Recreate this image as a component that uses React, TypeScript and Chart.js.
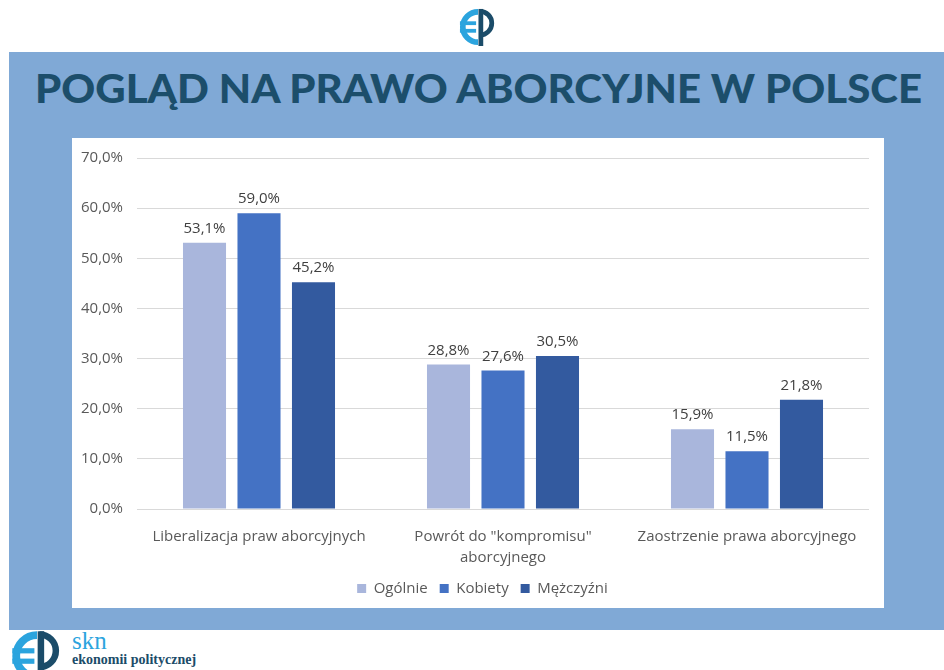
import React, { useEffect, useRef } from "react";
import { Chart, registerables } from "chart.js";

Chart.register(...registerables);

const categories: string[][] = [
  ["Liberalizacja praw aborcyjnych"],
  ['Powrót do "kompromisu"', "aborcyjnego"],
  ["Zaostrzenie prawa aborcyjnego"],
];
const seriesNames = ["Ogólnie", "Kobiety", "Mężczyźni"];
const ogolnie = [53.1, 28.8, 15.9];
const kobiety = [59.0, 27.6, 11.5];
const mezczyzni = [45.2, 30.5, 21.8];
const seriesColors = ["#a9b6dc", "#4472c4", "#335a9f"];
const yMin = 0;
const yMax = 70;
const yStep = 10;

const fmt = (v: number) => v.toFixed(1).replace(".", ",") + "%";
const FONT = "'Open Sans', sans-serif";

const dataLabelPlugin = {
  id: "dataLabels",
  afterDatasetsDraw(chart: any) {
    const ctx = chart.ctx;
    ctx.save();
    ctx.font = `15px ${FONT}`;
    ctx.fillStyle = "#404040";
    ctx.textAlign = "center";
    ctx.textBaseline = "alphabetic";
    chart.data.datasets.forEach((ds: any, i: number) => {
      const meta = chart.getDatasetMeta(i);
      meta.data.forEach((bar: any, j: number) => {
        ctx.fillText(fmt(ds.data[j]), bar.x, bar.y - 10);
      });
    });
    ctx.restore();
  },
};

const legendShiftPlugin = {
  id: "legendShift",
  afterLayout(chart: any) {
    const l = chart.legend;
    if (l) {
      l.left += 12;
      l.right += 12;
    }
  },
};

function Logo({ size }: { size: number }) {
  return (
    <svg width={size} height={size} viewBox="0 0 40 40">
      <path d="M20,4 A16,16 0 0 0 20,36" fill="none" stroke="#2ba4de" strokeWidth="6" />
      <rect x="1" y="14" width="17" height="4" fill="#2ba4de" />
      <rect x="1" y="22" width="17" height="4" fill="#2ba4de" />
      <rect x="20.5" y="1" width="5" height="39" fill="#1b4c69" />
      <path d="M22,3.5 A12.5,12.5 0 0 1 22,28.5" fill="none" stroke="#1b4c69" strokeWidth="5" />
    </svg>
  );
}

export default function App() {
  const ref = useRef<HTMLCanvasElement>(null);
  useEffect(() => {
    if (!ref.current) return;
    const chart = new Chart(ref.current, {
      type: "bar",
      data: {
        labels: categories,
        datasets: [
          { label: seriesNames[0], data: ogolnie, backgroundColor: seriesColors[0] },
          { label: seriesNames[1], data: kobiety, backgroundColor: seriesColors[1] },
          { label: seriesNames[2], data: mezczyzni, backgroundColor: seriesColors[2] },
        ],
      },
      options: {
        animation: false,
        responsive: false,
        devicePixelRatio: 1,
        layout: { padding: { top: 0, right: 15, bottom: 2, left: 0 } },
        datasets: { bar: { categoryPercentage: 0.67, barPercentage: 0.79 } },
        scales: {
          y: {
            min: yMin,
            max: yMax,
            ticks: {
              stepSize: yStep,
              callback: (v: any) => fmt(Number(v)),
              font: { family: FONT, size: 15 },
              color: "#595959",
              padding: 14,
            },
            grid: { color: "#d9d9d9", drawTicks: false },
            border: { display: false },
            afterFit: (s: any) => {
              s.width = 65;
              s.paddingTop = 20;
              s.paddingBottom = 0;
            },
          },
          x: {
            grid: { display: false },
            border: { display: false },
            ticks: {
              font: { family: FONT, size: 15, lineHeight: 1.35 },
              color: "#595959",
              padding: 10,
              maxRotation: 0,
              autoSkip: false,
            },
            afterFit: (s: any) => {
              s.height = 60;
              s.paddingLeft = 0;
              s.paddingRight = 0;
            },
          },
        },
        plugins: {
          legend: {
            position: "bottom",
            labels: {
              boxWidth: 9,
              boxHeight: 9,
              font: { family: FONT, size: 15 },
              color: "#595959",
              padding: 12,
            },
          },
          tooltip: { enabled: false },
        },
      },
      plugins: [dataLabelPlugin, legendShiftPlugin],
    } as any);
    return () => chart.destroy();
  }, []);

  return (
    <div style={{ position: "absolute", left: 0, top: 0, width: 944, height: 670, background: "#ffffff", overflow: "hidden" }}>
      <div style={{ position: "absolute", left: 459, top: 8 }}>
        <Logo size={38} />
      </div>
      <div style={{ position: "absolute", left: 9, top: 52, width: 935, height: 578, background: "#80a9d6" }} />
      <svg style={{ position: "absolute", left: 0, top: 52 }} width={944} height={80}>
        <text
          x={35}
          y={51}
          textLength={887}
          lengthAdjust="spacingAndGlyphs"
          fill="#1c4e6b"
          style={{ font: "900 39px Lato, sans-serif" }}
        >
          POGLĄD NA PRAWO ABORCYJNE W POLSCE
        </text>
      </svg>
      <div style={{ position: "absolute", left: 72, top: 138, width: 812, height: 470, background: "#ffffff" }}>
        <canvas ref={ref} width={812} height={470} />
      </div>
      <div style={{ position: "absolute", left: 11, top: 630 }}>
        <Logo size={52} />
      </div>
      <div style={{ position: "absolute", left: 72, top: 628, fontFamily: "'Liberation Serif', serif", color: "#2ba4de", fontSize: 25, lineHeight: "26px" }}>
        skn
      </div>
      <div style={{ position: "absolute", left: 72, top: 652, fontFamily: "'Liberation Serif', serif", color: "#1b4c69", fontSize: 14, lineHeight: "16px", fontWeight: 700 }}>
        ekonomii politycznej
      </div>
    </div>
  );
}
